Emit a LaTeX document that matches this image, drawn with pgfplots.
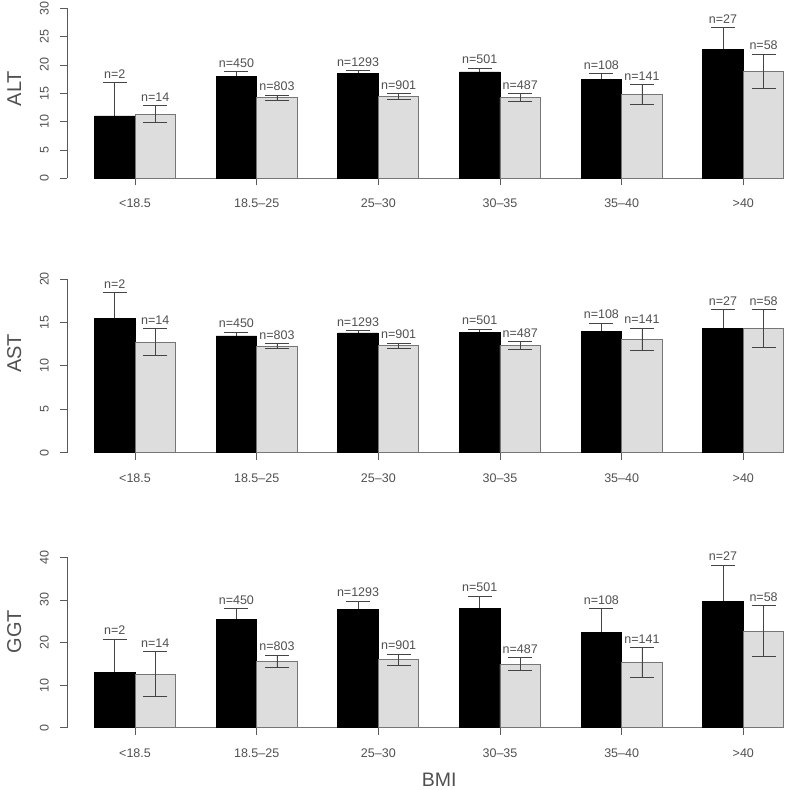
\documentclass[border=0pt]{standalone}
\usepackage{fontspec}
\setmainfont{Liberation Sans}
\usepackage{pgfplots}
\usepackage{pgfplotstable}
\pgfplotsset{compat=1.18}
\definecolor{txtgray}{HTML}{505050}
\definecolor{axgray}{HTML}{5A5A5A}
\definecolor{bargray}{HTML}{DDDDDD}
\definecolor{bordgray}{HTML}{767676}
\definecolor{errgray}{HTML}{444444}

% panel ALT
\pgfplotstableread{
x y e n
1.5 11.00 5.90 2
4.5 18.05 0.75 450
7.5 18.50 0.50 1293
10.5 18.76 0.65 501
13.5 17.40 1.10 108
16.5 22.76 3.85 27
}\altA
\pgfplotstableread{
x y e n
2.5 11.30 1.50 14
5.5 14.20 0.45 803
8.5 14.40 0.50 901
11.5 14.20 0.70 487
14.5 14.76 1.75 141
17.5 18.90 3.05 58
}\altB
% panel AST
\pgfplotstableread{
x y e n
1.5 15.48 2.95 2
4.5 13.44 0.43 450
7.5 13.79 0.27 1293
10.5 13.86 0.35 501
13.5 13.94 1.00 108
16.5 14.28 2.20 27
}\astA
\pgfplotstableread{
x y e n
2.5 12.71 1.55 14
5.5 12.29 0.25 803
8.5 12.33 0.30 901
11.5 12.37 0.45 487
14.5 13.09 1.27 141
17.5 14.32 2.15 58
}\astB
% panel GGT
\pgfplotstableread{
x y e n
1.5 12.90 7.90 2
4.5 25.40 2.50 450
7.5 27.80 1.95 1293
10.5 28.10 2.80 501
13.5 22.40 5.50 108
16.5 29.60 8.60 27
}\ggtA
\pgfplotstableread{
x y e n
2.5 12.60 5.30 14
5.5 15.60 1.40 803
8.5 15.97 1.30 901
11.5 14.95 1.50 487
14.5 15.35 3.45 141
17.5 22.70 5.90 58
}\ggtB

\pgfplotsset{
  panel/.style={
    scale only axis, width=719.8pt,
    xmin=0.33, xmax=18.08, ymin=0,
    axis y line*=left, axis x line*=bottom,
    x axis line style={draw=none},
    y axis line style={draw=axgray, line width=0.8pt},
    xtick={2,5,8,11,14,17},
    xticklabels={{<18.5},{18.5--25},{25--30},{30--35},{35--40},{>40}},
    tick align=outside, major tick length=7pt,
    tick style={draw=axgray, line width=0.8pt},
    xticklabel style={font=\fontsize{12.5}{14}\selectfont, text=txtgray, anchor=center, yshift=-18pt},
    yticklabel style={font=\fontsize{12.5}{14}\selectfont, text=txtgray, rotate=90, anchor=center, yshift=16pt},
    /pgf/number format/assume math mode=true,
    clip=false,
    every axis y label/.style={rotate=90, anchor=center, font=\fontsize{20}{22}\selectfont, text=txtgray},
  },
  errs/.style={error bars/.cd, y dir=both, y explicit,
    error bar style={line width=0.8pt, errgray},
    error mark options={line width=0.8pt, errgray, mark size=12pt, rotate=90}},
  blackerr/.style={ybar, bar width=1, bar shift=0pt, draw=none, fill=none, errs},
  blackbar/.style={ybar, bar width=1, bar shift=0pt, fill=black, draw=black, line width=0.8pt},
  graybar/.style={ybar, bar width=1, bar shift=0pt, fill=bargray, draw=bordgray, line width=0.8pt, errs},
  nlab/.style={only marks, mark=none, point meta=explicit symbolic,
    nodes near coords={n=\pgfplotspointmeta},
    every node near coord/.style={anchor=south, inner sep=0pt, yshift=4pt,
      font=\fontsize{12.5}{14}\selectfont, text=txtgray}},
}

\begin{document}
\begin{tikzpicture}
% ALT
\begin{axis}[panel, at={(67.3pt,-178.3pt)}, anchor=south west,
  height=170pt, ymax=30, ytick={0,5,...,30},
  ylabel={ALT}, ylabel style={at={(axis cs:0.33,15.85)}, yshift=53pt}]
  \draw[bordgray, line width=0.8pt] (axis cs:1,0) -- (axis cs:18,0);
  \addplot[blackerr] table[x=x,y=y,y error=e] {\altA};
  \addplot[blackbar] table[x=x,y=y] {\altA};
  \addplot[graybar] table[x=x,y=y,y error=e] {\altB};
  \addplot[nlab] table[x=x, y expr=\thisrow{y}+\thisrow{e}, meta=n] {\altA};
  \addplot[nlab] table[x=x, y expr=\thisrow{y}+\thisrow{e}, meta=n] {\altB};
\end{axis}
% AST
\begin{axis}[panel, at={(67.3pt,-452.7pt)}, anchor=south west,
  height=173.7pt, ymax=20, ytick={0,5,...,20},
  ylabel={AST}, ylabel style={at={(axis cs:0.33,11.45)}, yshift=53pt}]
  \draw[bordgray, line width=0.8pt] (axis cs:1,0) -- (axis cs:18,0);
  \addplot[blackerr] table[x=x,y=y,y error=e] {\astA};
  \addplot[blackbar] table[x=x,y=y] {\astA};
  \addplot[graybar] table[x=x,y=y,y error=e] {\astB};
  \addplot[nlab] table[x=x, y expr=\thisrow{y}+\thisrow{e}, meta=n] {\astA};
  \addplot[nlab] table[x=x, y expr=\thisrow{y}+\thisrow{e}, meta=n] {\astB};
\end{axis}
% GGT
\begin{axis}[panel, at={(67.3pt,-727.7pt)}, anchor=south west,
  height=170.4pt, ymax=40, ytick={0,10,...,40},
  ylabel={GGT}, ylabel style={at={(axis cs:0.33,22.5)}, yshift=53pt},
  xlabel={BMI}, xlabel style={at={(axis cs:9.5,0)}, anchor=center, yshift=-52pt,
    font=\fontsize{19.5}{22}\selectfont, text=txtgray}]
  \draw[bordgray, line width=0.8pt] (axis cs:1,0) -- (axis cs:18,0);
  \addplot[blackerr] table[x=x,y=y,y error=e] {\ggtA};
  \addplot[blackbar] table[x=x,y=y] {\ggtA};
  \addplot[graybar] table[x=x,y=y,y error=e] {\ggtB};
  \addplot[nlab] table[x=x, y expr=\thisrow{y}+\thisrow{e}, meta=n] {\ggtA};
  \addplot[nlab] table[x=x, y expr=\thisrow{y}+\thisrow{e}, meta=n] {\ggtB};
\end{axis}
\pgfresetboundingbox
\path[use as bounding box] (0,0) rectangle (787pt,-790pt);
\end{tikzpicture}
\end{document}
